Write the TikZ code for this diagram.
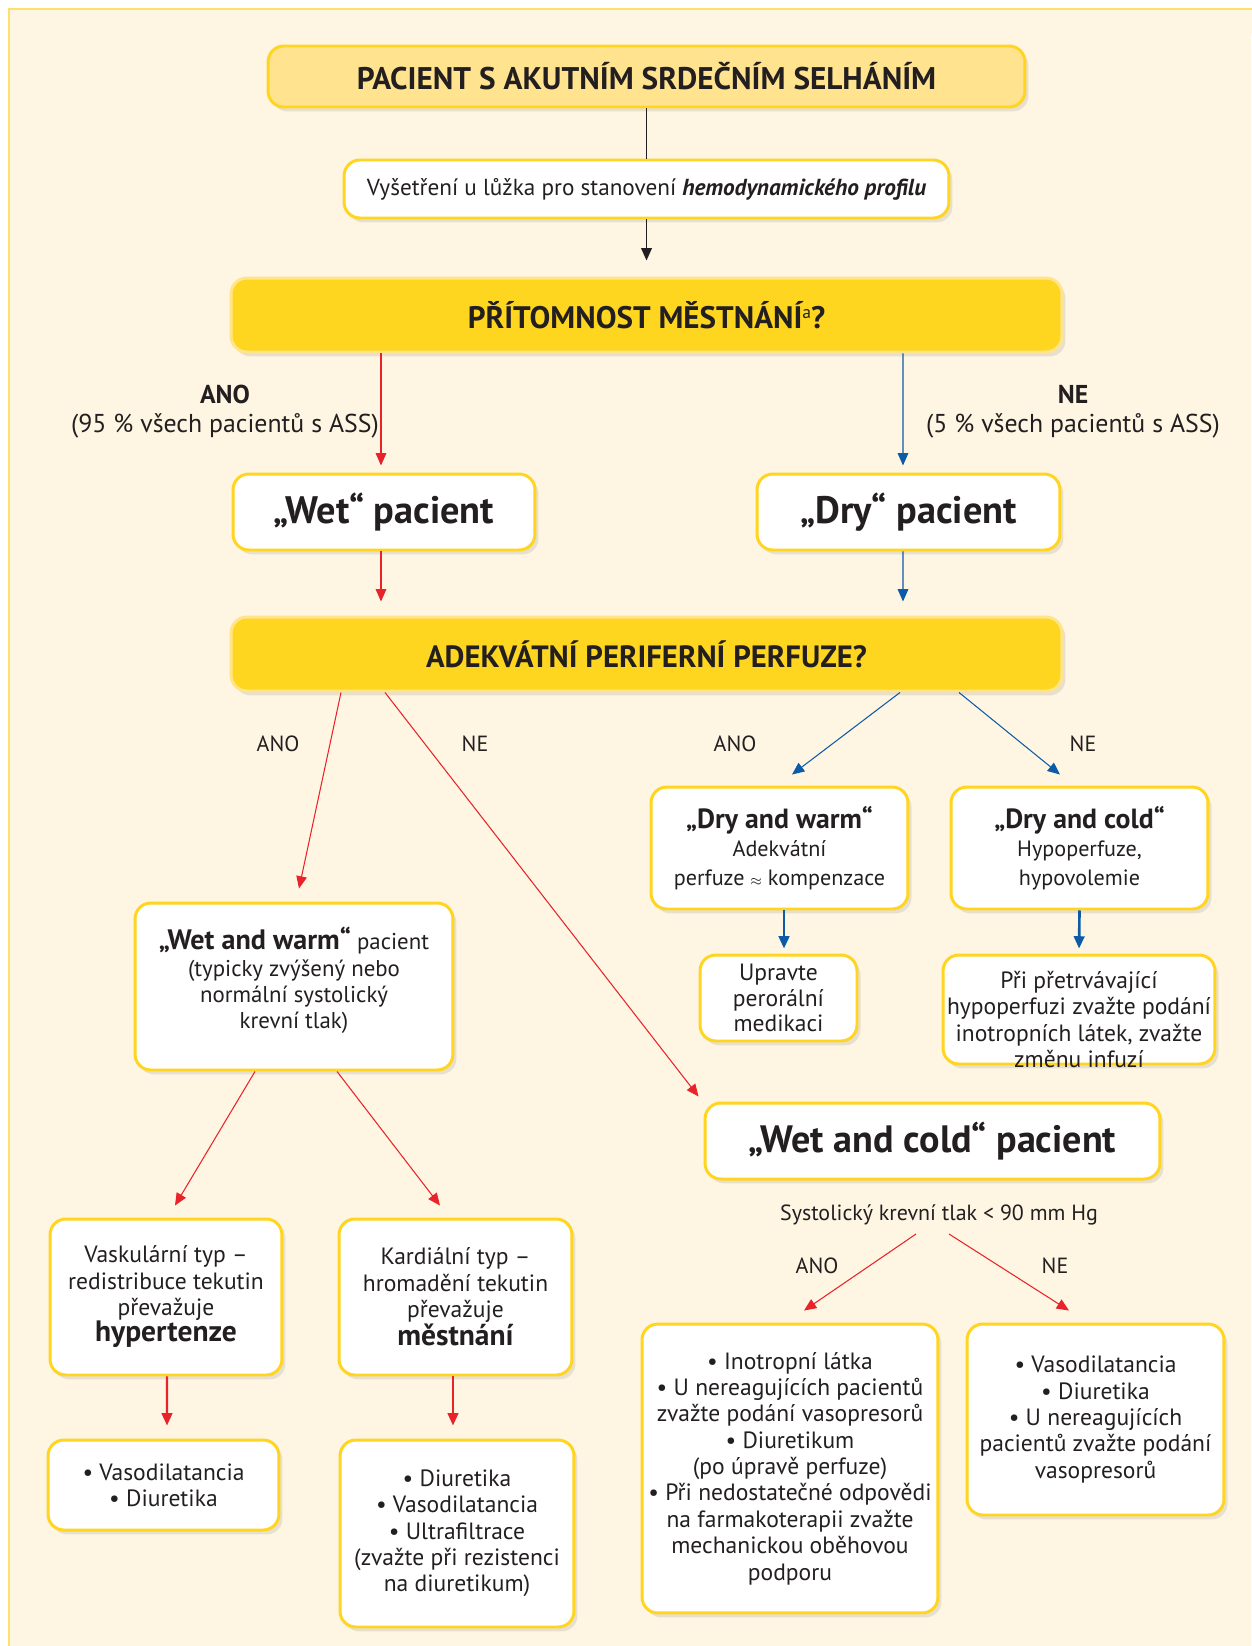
\documentclass[tikz,border=0pt]{standalone}
\usepackage{fontspec}
\setmainfont{PT Sans}
\usetikzlibrary{arrows.meta,shadows,calc}
\definecolor{cream}{HTML}{FEF6E3}
\definecolor{frameY}{HTML}{FFE06B}
\definecolor{ybord}{HTML}{FFD520}
\definecolor{titleY}{HTML}{FFE38F}
\definecolor{qY}{HTML}{FFD61F}
\definecolor{qBord}{HTML}{FFE48A}
\definecolor{cred}{HTML}{E8232A}
\definecolor{cblue}{HTML}{0D5AA7}
\definecolor{ink}{HTML}{231F20}
\tikzset{
  box/.style={draw=ybord, line width=1.7pt, rounded corners=9pt, fill=white,
    drop shadow={shadow xshift=2pt, shadow yshift=-2.5pt, opacity=0.18},
    inner sep=0pt, align=center, text=ink},
  qbox/.style={box, fill=qY, draw=qBord},
  lbl/.style={inner sep=0pt, align=center, text=ink},
  body/.style={font=\fontsize{13.4}{15}\selectfont},
  tip/.style={-{Triangle[length=7pt,width=6pt]}},
  redarr/.style={draw=cred, line width=0.6pt, tip},
  bluearr/.style={draw=cblue, line width=0.6pt, tip},
  redthick/.style={draw=cred, line width=1.3pt, tip},
  bluethick/.style={draw=cblue, line width=1.5pt, tip},
  blackarr/.style={draw=ink, line width=0.9pt, tip},
}
\begin{document}
\begin{tikzpicture}[x=0.02cm,y=-0.02cm]
\useasboundingbox (0,0) rectangle (1251,1646);
\fill[white] (0,0) rectangle (1251,1646);
\draw[frameY, fill=cream, line width=1.2pt] (1270,9) -- (9,9) -- (9,1670);
\fill[cream] (10,10) rectangle (1251,1646);

% boxes
\node[box, fill=titleY, minimum width=15.14cm, minimum height=1.22cm,
  font=\bfseries\fontsize{17.8}{20}\selectfont] (title) at (646.5,76.5)
  {\raisebox{1pt}{PACIENT S AKUTNÍM SRDEČNÍM SELHÁNÍM}};
\node[box, minimum width=12.10cm, minimum height=1.16cm,
  font=\fontsize{13.2}{15}\selectfont] (exam) at (646.5,189)
  {Vyšetření u lůžka pro stanovení \textbf{\textit{hemodynamického profilu}}};
\node[qbox, minimum width=16.62cm, minimum height=1.48cm,
  font=\bfseries\fontsize{17.7}{20}\selectfont] (q1) at (646.5,315)
  {PŘÍTOMNOST MĚSTNÁNÍ\raisebox{0.6ex}{\mdseries\fontsize{10}{10}\selectfont a}?};
\node[box, minimum width=6.04cm, minimum height=1.52cm,
  font=\bfseries\fontsize{21.8}{24}\selectfont] (wet) at (384,512) {„Wet“ pacient};
\node[box, minimum width=6.06cm, minimum height=1.52cm,
  font=\bfseries\fontsize{21.8}{24}\selectfont] (dry) at (908.5,512) {„Dry“ pacient};
\node[qbox, minimum width=16.62cm, minimum height=1.48cm,
  font=\bfseries\fontsize{17.5}{20}\selectfont] (q2) at (646.5,654)
  {ADEKVÁTNÍ PERIFERNÍ PERFUZE?};
\node[box, minimum width=5.14cm, minimum height=2.44cm,
  font=\fontsize{12.6}{16.4}\selectfont] (dw) at (779.5,848)
  {{\bfseries\fontsize{15.8}{16.4}\selectfont „Dry and warm“}\\Adekvátní\\perfuze {\footnotesize$\approx$} kompenzace};
\node[box, minimum width=5.14cm, minimum height=2.44cm,
  font=\fontsize{12.6}{16.4}\selectfont] (dc) at (1079.5,848)
  {{\bfseries\fontsize{15.8}{16.4}\selectfont „Dry and cold“}\\Hypoperfuze,\\hypovolemie};
\node[box, body, minimum width=3.14cm, minimum height=1.72cm,
  font=\fontsize{13.4}{14.3}\selectfont] (dwr) at (778.5,998)
  {Upravte\\perorální\\medikaci};
\node[box, minimum width=5.44cm, minimum height=2.18cm] (dcr) at (1079,1009.5) {};
\node[lbl, body] (dcrt) at ($(dcr.center)+(0,10)$)
  {Při přetrvávající\\hypoperfuzi zvažte podání\\inotropních látek, zvažte\\změnu infuzí};
\node[box, minimum width=6.36cm, minimum height=3.34cm] (ww) at (294,986.5) {};
\node[lbl, font=\fontsize{13}{15}\selectfont] (wwt) at ($(ww.center)+(0,-6)$)
  {{\bfseries\fontsize{16}{15}\selectfont „Wet and warm“} pacient\\(typicky zvýšený nebo\\normální systolický\\krevní tlak)};
\node[box, body, minimum width=4.64cm, minimum height=3.12cm] (vt) at (166,1297)
  {Vaskulární typ –\\redistribuce tekutin\\převažuje\\{\bfseries\fontsize{16.8}{15}\selectfont hypertenze}};
\node[box, body, minimum width=4.66cm, minimum height=3.12cm] (kt) at (455.5,1297)
  {Kardiální typ –\\hromadění tekutin\\převažuje\\{\bfseries\fontsize{16.8}{15}\selectfont městnání}};
\node[box, body, minimum width=4.62cm, minimum height=1.80cm] (vtr) at (163.5,1485)
  {• Vasodilatancia\\• Diuretika};
\node[box, body, minimum width=4.68cm, minimum height=3.74cm] (ktr) at (457,1533.5)
  {• Diuretika\\• Vasodilatancia\\• Ultrafiltrace\\(zvažte při rezistenci\\na diuretikum)};
\node[box, minimum width=9.10cm, minimum height=1.52cm,
  font=\bfseries\fontsize{21.7}{24}\selectfont] (wc) at (932.5,1141) {„Wet and cold“ pacient};
\node[box, body, minimum width=5.92cm, minimum height=5.78cm] (lb) at (790,1468.5)
  {• Inotropní látka\\• U nereagujících pacientů\\zvažte podání vasopresorů\\• Diuretikum\\(po úpravě perfuze)\\• Při nedostatečné odpovědi\\na farmakoterapii zvažte\\mechanickou oběhovou\\podporu};
\node[box, body, minimum width=5.14cm, minimum height=3.82cm] (rb) at (1095.5,1419.5)
  {• Vasodilatancia\\• Diuretika\\• U nereagujících\\pacientů zvažte podání\\vasopresorů};

% labels
\node[lbl, font=\bfseries\fontsize{14.7}{16}\selectfont] (anoT) at (225,394) {ANO};
\node[lbl, font=\fontsize{14.7}{16}\selectfont] (anoS) at (225,426) {(95 \% všech pacientů s ASS)};
\node[lbl, font=\bfseries\fontsize{14.7}{16}\selectfont] (neT) at (1073,394) {NE};
\node[lbl, font=\fontsize{14.7}{16}\selectfont] (neS) at (1073,426) {(5 \% všech pacientů s ASS)};
\node[lbl, font=\fontsize{12.5}{14}\selectfont] (l1) at (278,744) {ANO};
\node[lbl, font=\fontsize{12.5}{14}\selectfont] (l2) at (475,744) {NE};
\node[lbl, font=\fontsize{12.5}{14}\selectfont] (l3) at (735,744) {ANO};
\node[lbl, font=\fontsize{12.5}{14}\selectfont] (l4) at (1083,744) {NE};
\node[lbl, font=\fontsize{12.5}{14}\selectfont] (sys) at (939,1215) {Systolický krevní tlak < 90 mm Hg};
\node[lbl, font=\fontsize{12.5}{14}\selectfont] (l5) at (817,1266) {ANO};
\node[lbl, font=\fontsize{12.5}{14}\selectfont] (l6) at (1055,1266) {NE};

% connectors
\draw[draw=ink, line width=0.9pt] (title.south) -- (exam.north);
\draw[blackarr, shorten >=16*0.02cm] (exam.south) -- (q1.north);
\draw[redarr, shorten >=7*0.02cm] ($(q1.south)+(-265.5,0)$) -- ($(wet.north)+(-3,0)$);
\draw[bluearr, shorten >=7*0.02cm] ($(q1.south)+(256.5,0)$) -- ($(dry.north)+(-5.5,0)$);
\draw[redarr, shorten >=14*0.02cm] ($(wet.south)+(-3,0)$) -- ($(q2.north)+(-265.5,0)$);
\draw[bluearr, shorten >=14*0.02cm] ($(dry.south)+(-5.5,0)$) -- ($(q2.north)+(256.5,0)$);
\draw[redarr] ($(q2.south)+(-305.5,0)$) -- ($(ww.north)+(5,-13)$);
\draw[redarr] ($(q2.south)+(-261.5,0)$) -- ($(wc.north west)+(-5,-5)$);
\draw[bluearr] ($(q2.south)+(253.5,0)$) -- ($(dw.north)+(12.5,-11)$);
\draw[bluearr] ($(q2.south)+(312.5,0)$) -- ($(dc.north)+(-19.5,-11)$);
\draw[bluethick, shorten >=5*0.02cm] ($(dw.south)+(4.5,0)$) -- ($(dwr.north)+(5.5,0)$);
\draw[bluethick, shorten >=5*0.02cm] (dc.south) -- (dcr.north);
\draw[redarr] ($(ww.south)+(-39,0)$) -- ($(vt.north)+(9,-12)$);
\draw[redarr] ($(ww.south)+(43,0)$) -- ($(kt.north)+(-15.5,-12)$);
\draw[redthick, shorten >=13*0.02cm] ($(vt.south)+(1,0)$) -- ($(vtr.north)+(3.5,0)$);
\draw[redthick, shorten >=13*0.02cm] ($(kt.south)+(-2.5,0)$) -- ($(ktr.north)+(-4,0)$);
\draw[redarr] ($(sys.center)+(-23,19)$) -- ($(lb.north)+(14,-12)$);
\draw[redarr] ($(sys.center)+(10,19)$) -- ($(rb.north)+(-26.5,-12)$);
\end{tikzpicture}
\end{document}
